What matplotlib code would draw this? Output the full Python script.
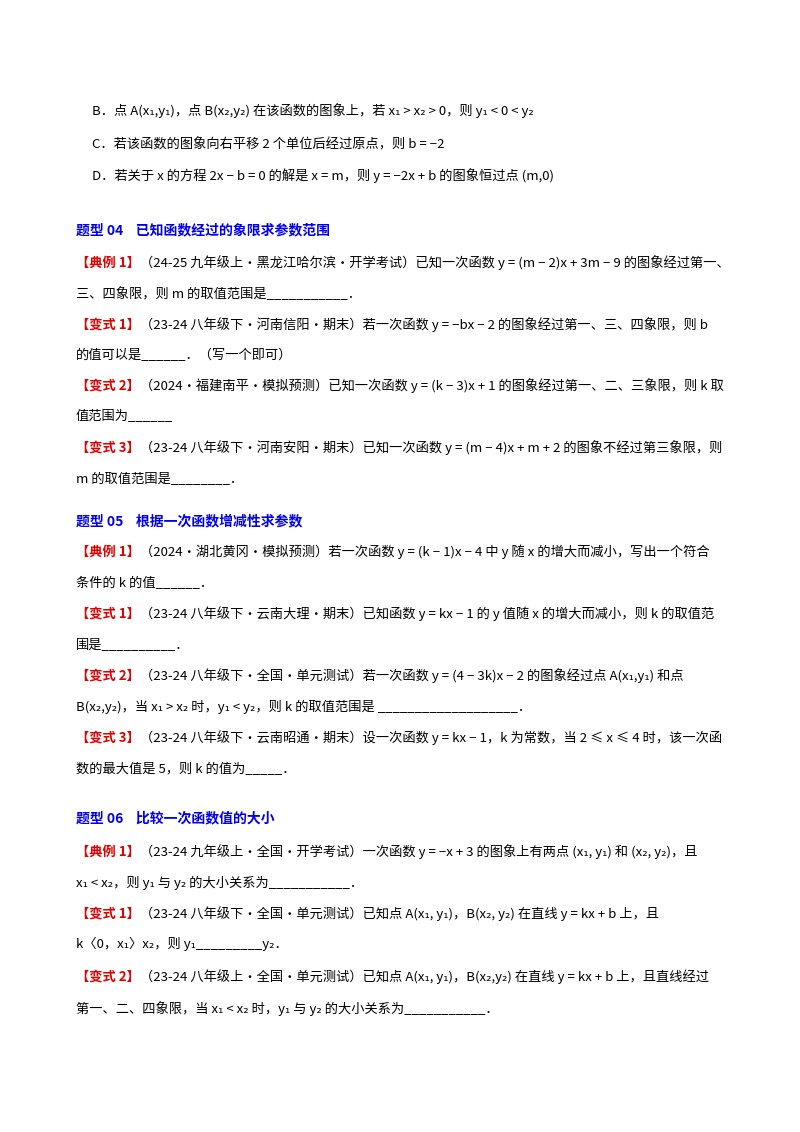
import matplotlib
matplotlib.use('Agg')
import matplotlib.pyplot as plt

plt.rcParams['font.family'] = ['Noto Sans CJK SC', 'DejaVu Sans']

# each line: (y pixel, x pixel, list of (text, colour, bold))
R, K, B = '#e00000', 'black', '#0000ee'
lines = [
    (111, 92, [('B．点 A(x₁,y₁)，点 B(x₂,y₂) 在该函数的图象上，若 x₁ > x₂ > 0，则 y₁ < 0 < y₂', K, False)]),
    (145, 92, [('C．若该函数的图象向右平移 2 个单位后经过原点，则 b = −2', K, False)]),
    (176, 92, [('D．若关于 x 的方程 2x − b = 0 的解是 x = m，则 y = −2x + b 的图象恒过点 (m,0)', K, False)]),
    (230, 76, [('题型 04    已知函数经过的象限求参数范围', B, True)]),
    (263, 76, [('【典例 1】', R, True), ('（24-25 九年级上·黑龙江哈尔滨·开学考试）已知一次函数 y = (m − 2)x + 3m − 9 的图象经过第一、', K, False)]),
    (294, 76, [('三、四象限，则 m 的取值范围是___________．', K, False)]),
    (325, 76, [('【变式 1】', R, True), ('（23-24 八年级下·河南信阳·期末）若一次函数 y = −bx − 2 的图象经过第一、三、四象限，则 b', K, False)]),
    (355, 76, [('的值可以是______．（写一个即可）', K, False)]),
    (386, 76, [('【变式 2】', R, True), ('（2024·福建南平·模拟预测）已知一次函数 y = (k − 3)x + 1 的图象经过第一、二、三象限，则 k 取', K, False)]),
    (417, 76, [('值范围为______', K, False)]),
    (448, 76, [('【变式 3】', R, True), ('（23-24 八年级下·河南安阳·期末）已知一次函数 y = (m − 4)x + m + 2 的图象不经过第三象限，则', K, False)]),
    (479, 76, [('m 的取值范围是________．', K, False)]),
    (521, 76, [('题型 05    根据一次函数增减性求参数', B, True)]),
    (552, 76, [('【典例 1】', R, True), ('（2024·湖北黄冈·模拟预测）若一次函数 y = (k − 1)x − 4 中 y 随 x 的增大而减小，写出一个符合', K, False)]),
    (583, 76, [('条件的 k 的值______．', K, False)]),
    (614, 76, [('【变式 1】', R, True), ('（23-24 八年级下·云南大理·期末）已知函数 y = kx − 1 的 y 值随 x 的增大而减小，则 k 的取值范', K, False)]),
    (645, 76, [('围是__________．', K, False)]),
    (676, 76, [('【变式 2】', R, True), ('（23-24 八年级下·全国·单元测试）若一次函数 y = (4 − 3k)x − 2 的图象经过点 A(x₁,y₁) 和点', K, False)]),
    (707, 76, [('B(x₂,y₂)，当 x₁ > x₂ 时，y₁ < y₂，则 k 的取值范围是 ___________________．', K, False)]),
    (738, 76, [('【变式 3】', R, True), ('（23-24 八年级下·云南昭通·期末）设一次函数 y = kx − 1，k 为常数，当 2 ≤ x ≤ 4 时，该一次函', K, False)]),
    (769, 76, [('数的最大值是 5，则 k 的值为_____．', K, False)]),
    (818, 76, [('题型 06    比较一次函数值的大小', B, True)]),
    (852, 76, [('【典例 1】', R, True), ('（23-24 九年级上·全国·开学考试）一次函数 y = −x + 3 的图象上有两点 (x₁, y₁) 和 (x₂, y₂)，且', K, False)]),
    (883, 76, [('x₁ < x₂，则 y₁ 与 y₂ 的大小关系为___________．', K, False)]),
    (914, 76, [('【变式 1】', R, True), ('（23-24 八年级下·全国·单元测试）已知点 A(x₁, y₁)，B(x₂, y₂) 在直线 y = kx + b 上，且', K, False)]),
    (944, 76, [('k〈0，x₁〉x₂，则 y₁_________y₂．', K, False)]),
    (977, 76, [('【变式 2】', R, True), ('（23-24 八年级上·全国·单元测试）已知点 A(x₁, y₁)，B(x₂,y₂) 在直线 y = kx + b 上，且直线经过', K, False)]),
    (1009, 76, [('第一、二、四象限，当 x₁ < x₂ 时，y₁ 与 y₂ 的大小关系为___________．', K, False)]),
]

W, H = 800, 1132
fig = plt.figure(figsize=(W / 100, H / 100), dpi=100)
fig.patch.set_facecolor('white')
renderer = fig.canvas.get_renderer()

for y, x, segs in lines:
    xpos = x
    for txt, col, bold in segs:
        size = 10 if col == B else 9.5
        t = fig.text(xpos / W, 1 - y / H, txt, color=col, fontsize=size,
                     fontweight='bold' if bold else 'normal', va='center', ha='left')
        bb = t.get_window_extent(renderer=renderer)
        xpos += bb.width

fig.savefig('out.png', dpi=100, facecolor='white')
